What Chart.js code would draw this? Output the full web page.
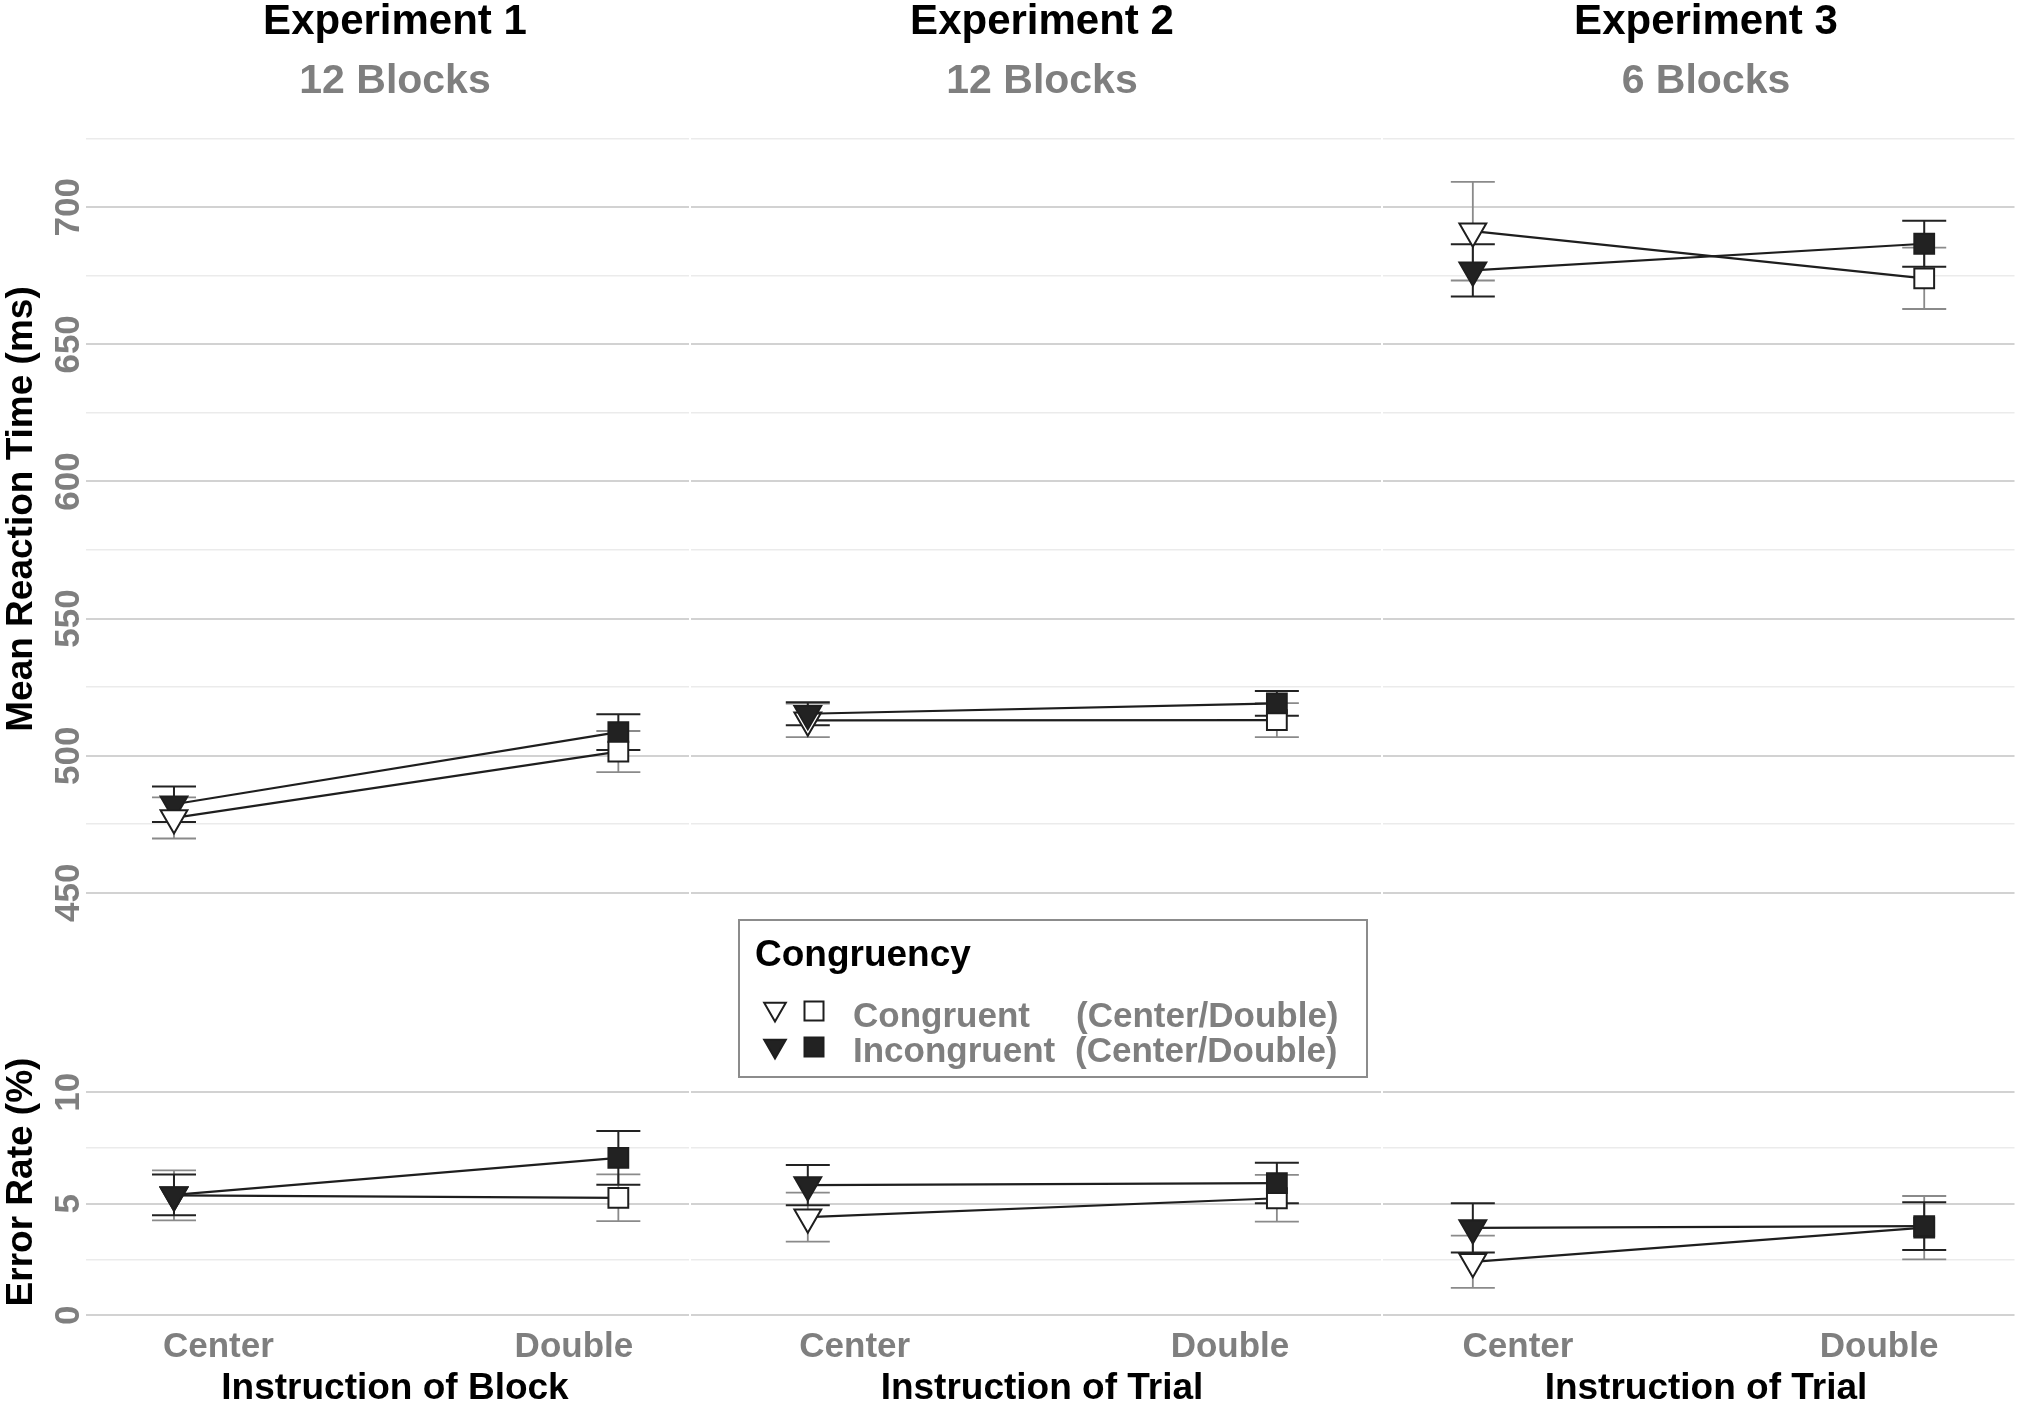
<!DOCTYPE html>
<html lang="en">
<head>
<meta charset="UTF-8">
<title>Reaction time and error rate by instruction</title>
<script src="https://cdn.jsdelivr.net/npm/chart.js"></script>
<style>
    body {
        margin: 0;
        background: #fff;
    }

    #wrap {
        position: relative;
        width: 2032px;
        height: 1403px;
    }

    #wrap canvas {
        position: absolute;
        left: 0;
        top: 0;
    }
</style>
</head>
<body>
<div id="wrap"></div>

<script>
// values
const experiments = ['Experiment 1', 'Experiment 2', 'Experiment 3'];
const blockCounts = ['12 Blocks', '12 Blocks', '6 Blocks'];
const xTitles = ['Instruction of Block', 'Instruction of Trial', 'Instruction of Trial'];
const conditions = ['Center', 'Double'];

// mean reaction time (ms): [Center, Double] per experiment
const rtCongruent = [[477.3, 501.5], [512.9, 513.0], [691.3, 674.1]];
const rtCongruentErr = [[7.5, 7.5], [6.1, 6.2], [18.0, 11.2]];
const rtIncongruent = [[482.3, 508.6], [515.3, 519.1], [677.0, 686.7]];
const rtIncongruentErr = [[6.5, 6.5], [4.2, 4.5], [9.5, 8.4]];

// error rate (%)
const erCongruent = [[5.38, 5.27], [4.40, 5.25], [2.40, 3.93]];
const erCongruentErr = [[1.12, 1.05], [1.10, 1.05], [1.17, 1.42]];
const erIncongruent = [[5.40, 7.06], [5.84, 5.93], [3.92, 4.00]];
const erIncongruentErr = [[0.91, 1.20], [0.90, 0.91], [1.10, 1.07]];

// gridlines and tick labels
const rtGrid = [450, 475, 500, 525, 550, 575, 600, 625, 650, 675, 700, 725];
const rtTickLabels = [450, 500, 550, 600, 650, 700];
const erGrid = [0, 2.5, 5, 7.5, 10];
const erTickLabels = [0, 5, 10];
const conditionTickPos = [1.1, 1.9];

// layout
const W = 2032, H = 1403;
const FONT = "'Liberation Sans', Arial, Helvetica, sans-serif";
const GREY = '#7f7f7f';
const INK = '#1e1e1e';

const panels = [
    { left: 86, right: 689, xMin: 0.802, xMax: 2.159, center: 395 },
    { left: 691, right: 1381, xMin: 0.751, xMax: 2.222, center: 1042 },
    { left: 1383, right: 2030, xMin: 0.801, xMax: 2.200, center: 1706 }
];

const rows = {
    rt: {
        top: 97.6, bottom: 920.2, min: 440, max: 740, major: 50,
        grid: rtGrid, labels: rtTickLabels,
        title: 'Mean Reaction Time (ms)', titleY: 509,
        cong: rtCongruent, congErr: rtCongruentErr,
        incong: rtIncongruent, incongErr: rtIncongruentErr
    },
    er: {
        top: 1070, bottom: 1328.7, min: -0.6, max: 11, major: 5,
        grid: erGrid, labels: erTickLabels,
        title: 'Error Rate (%)', titleY: 1182,
        cong: erCongruent, congErr: erCongruentErr,
        incong: erIncongruent, incongErr: erIncongruentErr
    }
};

function drawText(ctx, str, x, y, size, color, align, rotated) {
    ctx.save();
    ctx.font = 'bold ' + size + 'px ' + FONT;
    ctx.fillStyle = color;
    ctx.textAlign = align || 'center';
    ctx.textBaseline = 'alphabetic';
    ctx.translate(x, y);
    if (rotated) ctx.rotate(-Math.PI / 2);
    ctx.fillText(str, 0, 0);
    ctx.restore();
}

function drawErrorBars(chart) {
    const ctx = chart.ctx;
    const xs = chart.scales.x, ys = chart.scales.y;
    ctx.save();
    // congruent first so the black bars sit on top
    chart.data.datasets.slice().reverse().forEach(ds => {
        ctx.strokeStyle = ds.barColor;
        ctx.lineWidth = ds.barWidth;
        ds.data.forEach((pt, j) => {
            const px = xs.getPixelForValue(pt.x);
            const hi = ys.getPixelForValue(pt.y + ds.errors[j]);
            const lo = ys.getPixelForValue(pt.y - ds.errors[j]);
            ctx.beginPath();
            ctx.moveTo(px, hi); ctx.lineTo(px, lo);
            ctx.moveTo(px - 22, hi); ctx.lineTo(px + 22, hi);
            ctx.moveTo(px - 22, lo); ctx.lineTo(px + 22, lo);
            ctx.stroke();
        });
    });
    ctx.restore();
}

function triangleDown(ctx, x, y, r, fill) {
    ctx.beginPath();
    ctx.moveTo(x, y + r);
    ctx.lineTo(x - r * Math.sin(Math.PI / 3), y - r / 2);
    ctx.lineTo(x + r * Math.sin(Math.PI / 3), y - r / 2);
    ctx.closePath();
    ctx.fillStyle = fill;
    ctx.fill();
    ctx.stroke();
}

function square(ctx, x, y, s, fill) {
    ctx.fillStyle = fill;
    ctx.fillRect(x - s / 2, y - s / 2, s, s);
    ctx.strokeRect(x - s / 2, y - s / 2, s, s);
}

function drawLegend(ctx) {
    ctx.save();
    ctx.fillStyle = '#fff';
    ctx.fillRect(739, 920, 628, 157);
    ctx.strokeStyle = '#8c8c8c';
    ctx.lineWidth = 2;
    ctx.strokeRect(739, 920, 628, 157);
    drawText(ctx, 'Congruency', 755, 966, 37, '#000', 'left');

    ctx.strokeStyle = INK;
    ctx.lineWidth = 2;
    triangleDown(ctx, 775, 1009, 12.5, '#fff');
    square(ctx, 814, 1011, 19, '#fff');
    triangleDown(ctx, 775, 1046, 12.5, '#222');
    square(ctx, 814, 1047, 19, '#222');

    drawText(ctx, 'Congruent', 853, 1027, 35, GREY, 'left');
    drawText(ctx, '(Center/Double)', 1076, 1027, 35, GREY, 'left');
    drawText(ctx, 'Incongruent', 853, 1062, 35, GREY, 'left');
    drawText(ctx, '(Center/Double)', 1075, 1062, 35, GREY, 'left');
    ctx.restore();
}

function makeChart(p, rowKey) {
    const panel = panels[p];
    const row = rows[rowKey];
    const isRT = rowKey === 'rt';

    const canvas = document.createElement('canvas');
    canvas.width = W;
    canvas.height = H;
    canvas.style.width = W + 'px';
    canvas.style.height = H + 'px';
    document.getElementById('wrap').appendChild(canvas);

    const toPoints = vals => vals.map((v, j) => ({ x: j + 1, y: v }));
    const common = {
        borderColor: INK,
        borderWidth: 2.2,
        tension: 0,
        pointStyle: ['triangle', 'rect'],
        pointRotation: [180, 0],
        pointRadius: [15.5, 14],
        pointBorderColor: INK,
        pointBorderWidth: 2
    };

    const decor = {
        id: 'decor',
        beforeDatasetsDraw(chart) {
            drawErrorBars(chart);
        },
        afterDraw(chart) {
            const ctx = chart.ctx;
            const ys = chart.scales.y, xs = chart.scales.x;
            if (p === 0) {
                row.labels.forEach(v => {
                    drawText(ctx, String(v), 79, ys.getPixelForValue(v), 35, GREY, 'center', true);
                });
                drawText(ctx, row.title, 32, row.titleY, 37, '#000', 'center', true);
            }
            if (isRT) {
                drawText(ctx, experiments[p], panel.center, 33.5, 42, '#000');
                drawText(ctx, blockCounts[p], panel.center, 92.5, 41, GREY);
            } else {
                conditionTickPos.forEach((t, j) => {
                    drawText(ctx, conditions[j], xs.getPixelForValue(t), 1357, 35, GREY);
                });
                drawText(ctx, xTitles[p], panel.center, 1399, 37, '#000');
                if (p === 1) drawLegend(ctx);
            }
        }
    };

    return new Chart(canvas, {
        type: 'line',
        data: {
            datasets: [
                Object.assign({}, common, {
                    label: 'Incongruent',
                    data: toPoints(row.incong[p]),
                    errors: row.incongErr[p],
                    barColor: '#222',
                    barWidth: 2,
                    pointBackgroundColor: '#222',
                    order: 0
                }),
                Object.assign({}, common, {
                    label: 'Congruent',
                    data: toPoints(row.cong[p]),
                    errors: row.congErr[p],
                    barColor: '#8a8a8a',
                    barWidth: 1.8,
                    pointBackgroundColor: '#fff',
                    order: (p === 0 && isRT) ? -1 : 1
                })
            ]
        },
        options: {
            responsive: false,
            animation: false,
            events: [],
            layout: {
                padding: {
                    left: panel.left,
                    right: W - panel.right,
                    top: row.top,
                    bottom: H - row.bottom
                }
            },
            plugins: {
                legend: { display: false },
                tooltip: { enabled: false }
            },
            scales: {
                x: {
                    type: 'linear',
                    display: false,
                    min: panel.xMin,
                    max: panel.xMax
                },
                y: {
                    type: 'linear',
                    min: row.min,
                    max: row.max,
                    afterBuildTicks: scale => {
                        scale.ticks = row.grid.map(v => ({ value: v }));
                    },
                    grid: {
                        drawTicks: false,
                        color: c => (c.tick && c.tick.value % row.major === 0) ? '#d2d2d2' : '#ebebeb',
                        lineWidth: c => (c.tick && c.tick.value % row.major === 0) ? 2 : 1.5
                    },
                    ticks: { display: false },
                    border: { display: false }
                }
            }
        },
        plugins: [decor]
    });
}

[0, 1, 2].forEach(p => {
    makeChart(p, 'rt');
    makeChart(p, 'er');
});
</script>
</body>
</html>
